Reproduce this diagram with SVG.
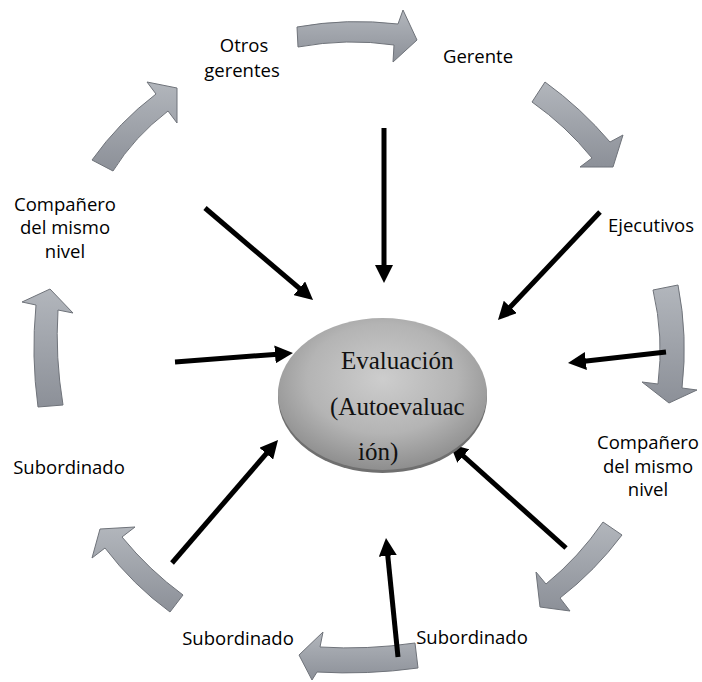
<svg xmlns="http://www.w3.org/2000/svg" width="702" height="682" viewBox="0 0 702 682">
  <style>
    .lbl { font-family: "Open Sans", "Liberation Sans", sans-serif; font-size: 18.5px; fill: #000; text-anchor: middle; }
    .core { font-family: "Liberation Serif", "Times New Roman", serif; font-size: 25px; fill: #111; }
    .cycle { fill: url(#cycleFill); stroke: #6f737a; stroke-width: 1; stroke-linejoin: miter; }
    .link { stroke: #000; stroke-width: 5; fill: none; marker-end: url(#head); }
  </style>
  <defs>
    <linearGradient id="cycleFill" x1="0" y1="0" x2="0" y2="1">
      <stop offset="0" stop-color="#b2b6bc"/>
      <stop offset="1" stop-color="#8c9098"/>
    </linearGradient>
    <radialGradient id="discFill" cx="0.5" cy="0.4" r="0.6">
      <stop offset="0" stop-color="#cdcdcd"/>
      <stop offset="0.6" stop-color="#b4b4b4"/>
      <stop offset="1" stop-color="#8e8e8e"/>
    </radialGradient>
    <marker id="head" markerUnits="userSpaceOnUse" markerWidth="18" markerHeight="18" refX="6" refY="9" orient="auto">
      <path d="M0,0 L18,9 L0,18 Z" fill="#000"/>
    </marker>
  </defs>

  <rect width="702" height="682" fill="#fff"/>

  <!-- ring of curved gray arrows -->
  <g id="cycle">
    <path class="cycle" d="M297,27 Q347,18 398,24 L403,10 L417,40 L393,62 L394,45 Q347,38 298,47 Z"/>
    <path class="cycle" d="M545,82 Q581,108 610,142 L623,135 L613,167 L580,167 L592,158 Q566,126 532,102 Z"/>
    <path class="cycle" d="M678,285 Q688,336 682,388 L697,390 L669,403 L642,382 L658,384 Q664,337 653,290 Z"/>
    <path class="cycle" d="M603,522 Q579,557 546,584 L536,572 L540,607 L570,611 L560,598 Q595,571 622,535 Z"/>
    <path class="cycle" d="M415,643 Q367,650 320,647 L323,632 L299,655 L312,680 L317,672 Q367,675 418,668 Z"/>
    <path class="cycle" d="M183,595 Q149,570 122,537 L135,527 L100,529 L92,558 L105,548 Q133,585 170,612 Z"/>
    <path class="cycle" d="M63,405 Q55,357 58,310 L73,313 L50,289 L22,302 L36,305 Q31,356 38,407 Z"/>
    <path class="cycle" d="M113,171 Q134,137 168,111 L177,123 L177,88 L147,82 L156,94 Q119,122 92,160 Z"/>
  </g>

  <!-- straight black connectors toward the centre -->
  <g id="connectors">
    <line class="link" x1="205" y1="208" x2="303.9" y2="292.2"/>
    <line class="link" x1="384" y1="128" x2="384" y2="271"/>
    <line class="link" x1="600" y1="212" x2="506.2" y2="311.3"/>
    <line class="link" x1="666" y1="352" x2="579.9" y2="361.7"/>
    <line class="link" x1="175" y1="362" x2="281" y2="353.9"/>
    <line class="link" x1="172" y1="563" x2="270.2" y2="449.1"/>
    <line class="link" x1="398" y1="657" x2="387.2" y2="549.9"/>
    <line class="link" x1="566" y1="548" x2="458.9" y2="452"/>
  </g>

  <!-- centre disc -->
  <g id="evaluacion">
    <ellipse cx="382.5" cy="397" rx="104.5" ry="76" fill="#6f6f6f"/>
    <ellipse cx="382.5" cy="394" rx="104.5" ry="76" fill="url(#discFill)"/>
    <text class="core" x="341" y="369">Evaluación</text>
    <text class="core" x="330" y="415">(Autoevaluac</text>
    <text class="core" x="358" y="460">ión)</text>
  </g>

  <g id="otros-gerentes">
    <text class="lbl" x="244" y="52">Otros</text>
    <text class="lbl" x="242" y="77">gerentes</text>
  </g>
  <g id="gerente">
    <text class="lbl" x="478" y="63">Gerente</text>
  </g>
  <g id="ejecutivos">
    <text class="lbl" x="651" y="232">Ejecutivos</text>
  </g>
  <g id="companero-derecha">
    <text class="lbl" x="648" y="449">Compañero</text>
    <text class="lbl" x="648" y="473">del mismo</text>
    <text class="lbl" x="648" y="496">nivel</text>
  </g>
  <g id="subordinado-derecha">
    <text class="lbl" x="472" y="644">Subordinado</text>
  </g>
  <g id="subordinado-centro">
    <text class="lbl" x="238" y="645">Subordinado</text>
  </g>
  <g id="subordinado-izquierda">
    <text class="lbl" x="69" y="474">Subordinado</text>
  </g>
  <g id="companero-izquierda">
    <text class="lbl" x="65" y="211">Compañero</text>
    <text class="lbl" x="65" y="234">del mismo</text>
    <text class="lbl" x="65" y="258">nivel</text>
  </g>
</svg>
